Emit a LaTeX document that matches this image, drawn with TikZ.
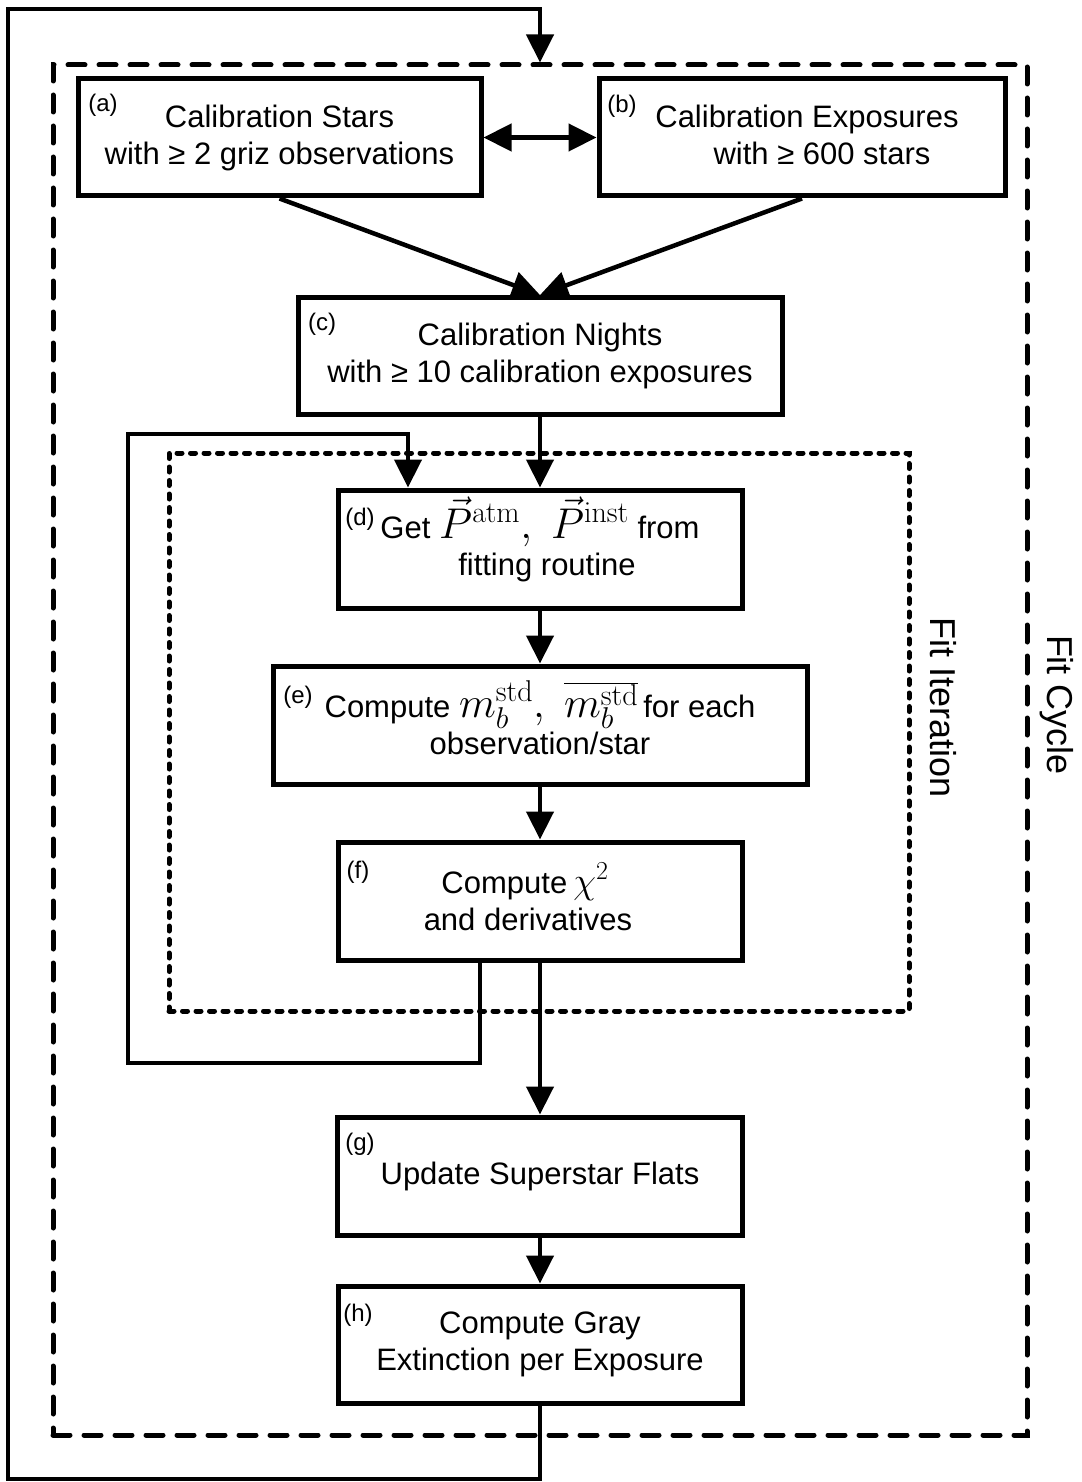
\RequirePackage{fix-cm}
\documentclass[tikz,border=0pt]{standalone}
\usepackage[no-math]{fontspec}
\setmainfont{Liberation Sans}
\usetikzlibrary{arrows.meta}
\newcommand\bigmath[1]{{\fontsize{43}{43}\selectfont$#1$}}
\newcommand\midmath[1]{{\fontsize{37}{37}\selectfont$#1$}}
\begin{document}
\begin{tikzpicture}[x=1pt,y=-1pt,
  box/.style={draw, line width=5pt, inner sep=0pt, align=center,
    font=\fontsize{31}{37}\selectfont},
  tag/.style={inner sep=0pt, font=\fontsize{24}{26}\selectfont},
  side/.style={inner sep=0pt, font=\fontsize{36}{40}\selectfont, rotate=-90},
  conn/.style={line width=4.5pt, -{Triangle[length=28pt,width=27pt]}},
  conntwo/.style={line width=4.5pt, {Triangle[length=28pt,width=27pt]}-{Triangle[length=28pt,width=27pt]}},
  cyclebox/.style={draw, line width=5pt, line cap=round, dash pattern=on 17pt off 14pt, inner sep=0pt},
  iterbox/.style={draw, line width=5pt, line cap=round, dash pattern=on 5pt off 8.5pt, inner sep=0pt}
]
\useasboundingbox (0,0) rectangle (1081,1482);

% group frames
\node[cyclebox, minimum width=974pt, minimum height=1370pt] (cyc) at (540,750) {};
\node[iterbox, minimum width=740pt, minimum height=558pt] (iter) at (539,732) {};
\node[side] (cyclab) at (1057,705) {Fit Cycle};
\node[side] (iterlab) at (943,708) {Fit Iteration};

% boxes
\node[box, minimum width=403pt, minimum height=117pt] (a) at (279.5,137.5)
  {Calibration Stars\\with ≥ 2 griz observations};
\node[box, minimum width=406pt, minimum height=117pt] (b) at (802,137.5)
  {\hspace*{10pt}Calibration Exposures\\\hspace*{40pt}with ≥ 600 stars\vphantom{g}};
\node[box, minimum width=484pt, minimum height=117pt] (c) at (540,356)
  {Calibration Nights\\with ≥ 10 calibration exposures};
\node[box, minimum width=404pt, minimum height=118pt] (d) at (540,549)
  {Get \smash{\bigmath{\vec{P}^{\mathrm{atm}},~\vec{P}^{\mathrm{inst}}}} from\\\hspace*{14pt}fitting routine};
\node[box, minimum width=534pt, minimum height=118pt] (e) at (540,725)
  {Compute \smash{\bigmath{m_b^{\mathrm{std}},~\overline{m_b^{\mathrm{std}}}}}\,for each\\observation/star};
\node[box, minimum width=404pt, minimum height=118pt] (f) at (540,901)
  {Compute\smash{\midmath{\,\chi^2}}\hspace*{30pt}\\and derivatives\hspace*{24pt}};
\node[box, minimum width=405pt, minimum height=118pt] (g) at (540,1176)
  {Update Superstar Flats};
\node[box, minimum width=404pt, minimum height=117pt] (h) at (540,1344.5)
  {Compute Gray\\Extinction per Exposure};

% tags
\node[tag] (la) at (103,105) {(a)};
\node[tag] (lb) at (622,106) {(b)};
\node[tag] (lc) at (322,324) {(c)};
\node[tag] (ld) at (360,519) {(d)};
\node[tag] (le) at (298,697) {(e)};
\node[tag] (lf) at (358,872) {(f)};
\node[tag] (lg) at (360,1144) {(g)};
\node[tag] (lh) at (358,1315) {(h)};

% connectors
\coordinate (o1) at (8,1479);
\coordinate (o2) at (8,9);
\coordinate (o3) at (540,9);
\coordinate (i1) at (128,1063);
\coordinate (i2) at (408,434);

\draw[conntwo] (a.east) -- (b.west);
\draw[conn] (a.south) -- (c.north);
\draw[conn] (b.south) -- (c.north);
\draw[conn] (c.south) -- (d.north);
\draw[conn] (d.south) -- (e.north);
\draw[conn] (e.south) -- (f.north);
\draw[conn] (f.south) -- (g.north);
\draw[conn] (g.south) -- (h.north);
\draw[conn] ([xshift=-60pt]f.south) |- (i1) |- (i2) -- ([xshift=-132pt]d.north);
\draw[conn] (h.south) |- (o1) -- (o2) -- (o3) -- (cyc.north);
\end{tikzpicture}
\end{document}
